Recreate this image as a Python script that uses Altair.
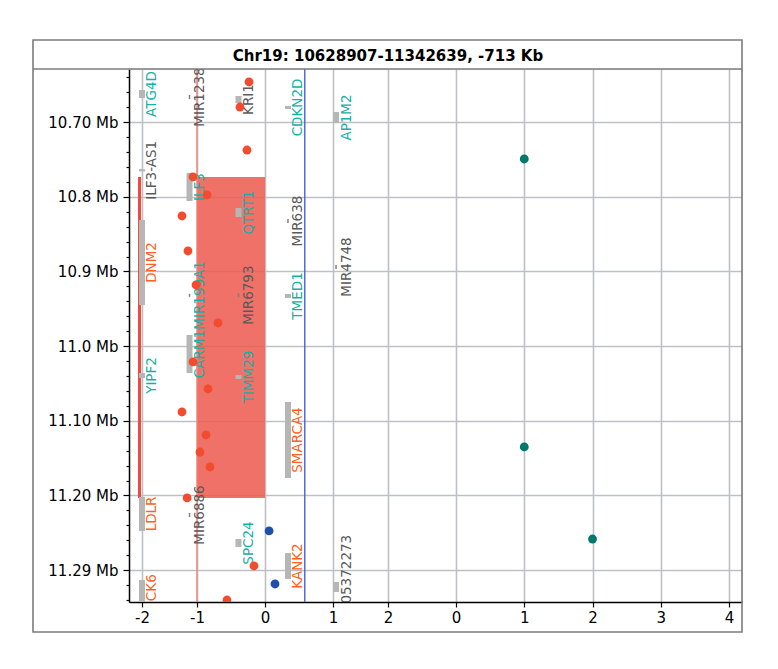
import altair as alt
import pandas as pd

TITLE = "Chr19: 10628907-11342639, -713 Kb"
Y_DOMAIN = [10.628907, 11.342639]  # Mb

# ---- x axis: left panel = log2 ratio (-2..2), right panel = count (0..4) shown to its right
RIGHT_SHIFT = 3
left_ticks = [-2, -1, 0, 1, 2]
right_ticks = [0, 1, 2, 3, 4]

# ---- y axis ticks (Mb)
y_major = [10.7, 10.8, 10.9, 11.0, 11.1, 11.2, 11.3]
y_major_labels = ["10.70 Mb", "10.8 Mb", "10.9 Mb", "11.0 Mb", "11.10 Mb", "11.20 Mb", "11.29 Mb"]
y_minor = [round(10.64 + 0.02 * i, 2) for i in range(36)]

# ---- CNV segment (loss)
cnv_start = [10.7735]
cnv_end = [11.2034]
cnv_log2 = [-1.0]
aberration_lane = -2.045

# ---- thresholds
threshold_x = [-1.0, 0.585]
threshold_kind = ["loss", "gain"]

# ---- probes (log2 ratio, position Mb)
probe_log2 = [-0.235, -0.368, -0.265, -1.073, -0.853, -1.273, -1.164, -1.018, -0.691,
              -1.073, -0.838, -1.273, -0.868, -0.956, -0.809, -1.18, -0.162, -0.559,
              0.06, 0.147]
probe_pos = [10.6463, 10.6798, 10.7374, 10.7735, 10.7976, 10.8257, 10.8726, 10.9181, 10.969,
             11.0212, 11.0574, 11.0882, 11.119, 11.1418, 11.1618, 11.2033, 11.2944, 11.34,
             11.2475, 11.3185]
probe_group = ["red"] * 18 + ["blue"] * 2

# ---- right panel counts
count_value = [1, 1, 2]
count_pos = [10.7494, 11.135, 11.2583]

# ---- genes
lane_x = [-2.0, -1.136, -0.39, 0.338, 1.055]
gene_name = ["ATG4D", "ILF3-AS1", "DNM2", "YIPF2", "LDLR", "DOCK6",
             "MIR1238", "ILF3", "MIR199A1", "CARM1", "MIR6886",
             "KRI1", "QTRT1", "MIR6793", "TIMM29", "SPC24",
             "CDKN2D", "MIR638", "TMED1", "SMARCA4", "KANK2",
             "AP1M2", "MIR4748", "LOC105372273"]
gene_lane = [0, 0, 0, 0, 0, 0,
             1, 1, 1, 1, 1,
             2, 2, 2, 2, 2,
             3, 3, 3, 3, 3,
             4, 4, 4]
gene_start = [10.6570, 10.7630, 10.8311, 11.0360, 11.2020, 11.3132,
              10.6637, 10.7682, 10.9300, 10.9851, 11.2235,
              10.6651, 10.8150, 10.9290, 11.0387, 11.2583,
              10.6784, 10.8298, 10.9302, 11.0748, 11.2770,
              10.6865, 10.8914, 11.3159]
gene_end = [10.6677, 10.7660, 10.9449, 11.0427, 11.2475, 11.3620,
            10.6691, 10.8057, 10.9340, 11.0360, 11.2288,
            10.6744, 10.8271, 10.9345, 11.0440, 11.2690,
            10.6825, 10.8351, 10.9355, 11.1766, 11.3118,
            10.7012, 10.8967, 11.3293]
gene_group = ["RefSeq", "other", "OMIM", "RefSeq", "OMIM", "OMIM",
              "other", "RefSeq", "RefSeq", "RefSeq", "other",
              "other", "RefSeq", "other", "RefSeq", "RefSeq",
              "RefSeq", "other", "RefSeq", "OMIM", "OMIM",
              "RefSeq", "other", "other"]

# ---------------------------------------------------------------- tables
genes = pd.DataFrame({
    "gene": gene_name,
    "lane": [lane_x[i] for i in gene_lane],
    "start": gene_start,
    "end": gene_end,
    "group": gene_group,
})
probes = pd.DataFrame({"x": probe_log2, "pos": probe_pos, "group": probe_group})
counts = pd.DataFrame({"count": count_value, "pos": count_pos})
cnv = pd.DataFrame({"start": cnv_start, "end": cnv_end, "log2": cnv_log2})
thr = pd.DataFrame({"x": threshold_x, "kind": threshold_kind})

# ---------------------------------------------------------------- scales / axes
FONT = "DejaVu Sans"
GRID = "#bcc1c7"

x_ticks = left_ticks + [v + RIGHT_SHIFT for v in right_ticks]
xscale = alt.Scale(domain=[-2.236, -1, 1, 2, 3, 7.19],
                   range=[0, 68, 204, 259, 327, 613], nice=False, zero=False)
xaxis = alt.Axis(values=x_ticks, title=None, grid=True, gridColor=GRID, gridWidth=1.6,
                 labelExpr=f"datum.value >= {RIGHT_SHIFT} ? '' + (datum.value - {RIGHT_SHIFT}) : '' + datum.value",
                 labelFont=FONT, labelFontSize=15, labelColor="black", labelPadding=3,
                 tickSize=5, tickColor="black", tickWidth=1.2,
                 domainColor="black", domainWidth=1.5, labelOverlap=False)

major_test = "round(datum.value*100) % 10 == 0"
label_expr = ""
for v, lab in zip(y_major, y_major_labels):
    label_expr += f"round(datum.value*100) == {int(round(v * 100))} ? '{lab}' : "
label_expr += "''"

yscale = alt.Scale(domain=Y_DOMAIN, reverse=True, nice=False, zero=False)
yaxis = alt.Axis(values=y_minor, title=None, grid=True, gridColor=GRID, gridWidth=1.6,
                 gridOpacity={"condition": {"test": major_test, "value": 1}, "value": 0},
                 tickSize={"condition": {"test": major_test, "value": 6}, "value": 3},
                 tickColor="black", tickWidth=1.2,
                 labelExpr=label_expr, labelFont=FONT, labelFontSize=15, labelColor="black",
                 labelPadding=5, labelOverlap=False, labelBound=False,
                 domainColor="black", domainWidth=1.5)


def X(field, **kw):
    return alt.X(field, type="quantitative", scale=xscale, axis=xaxis, **kw)


def Y(field, **kw):
    return alt.Y(field, type="quantitative", scale=yscale, axis=yaxis, **kw)


one = alt.Data(values=[{"a": 1}])

# decorations: outer frame and title separator
frame = alt.Chart(one).mark_rect(fillOpacity=0, stroke="#7c7c7c", strokeWidth=1.6).encode(
    x=alt.value(-96), x2=alt.value(613), y=alt.value(-29), y2=alt.value(563))
sep = alt.Chart(one).mark_rule(color="#7c7c7c", strokeWidth=1.6).encode(
    x=alt.value(-96), x2=alt.value(613), y=alt.value(0))

seg_rect = alt.Chart(cnv).mark_rect(color="#ee5a4e", opacity=0.86).encode(
    x=X("log2"), x2=alt.datum(0), y=Y("start"), y2="end")
seg_mark = alt.Chart(cnv).mark_rule(color="#ee4a3c", strokeWidth=3).encode(
    x=alt.datum(aberration_lane, scale=xscale, axis=xaxis), y=Y("start"), y2="end")

thr_rules = alt.Chart(thr).mark_rule(strokeWidth=1.4).encode(
    x=X("x"),
    color=alt.Color("kind:N", scale=alt.Scale(domain=["loss", "gain"], range=["#f2857a", "#4b5fd6"]),
                    legend=None))

is_mir = "indexof(datum.gene, 'MIR') == 0"
gene_bars = alt.Chart(genes).mark_rule(clip=True).encode(
    x=X("lane"), y=Y("start"), y2="end",
    strokeWidth=alt.condition(is_mir, alt.value(1.5), alt.value(6)),
    color=alt.condition(is_mir, alt.value("#808080"), alt.value("#b6b6b6")))

# rotated labels: dy moves them to the right of the gene bar
gene_labels = alt.Chart(genes).transform_calculate(
    mid="(datum.start + datum.end) / 2"
).mark_text(angle=270, align="center", baseline="middle", dy=10.5, font=FONT,
            fontSize=13.5, clip=True).encode(
    x=X("lane"), y=Y("mid:Q"), text="gene:N",
    color=alt.Color("group:N", scale=alt.Scale(domain=["RefSeq", "OMIM", "other"],
                                               range=["#16b0a6", "#ff5f22", "#5a5a5a"]),
                    legend=None))

probe_pts = alt.Chart(probes).mark_circle(size=78, opacity=1, clip=True).encode(
    x=X("x"), y=Y("pos"),
    fill=alt.Fill("group:N", scale=alt.Scale(domain=["red", "blue"], range=["#f24b2d", "#1f4fae"]),
                  legend=None))

count_pts = alt.Chart(counts).transform_calculate(
    xc=f"datum.count + {RIGHT_SHIFT}"
).mark_circle(size=78, opacity=1, color="#00786d", clip=True).encode(
    x=X("xc:Q"), y=Y("pos"))

chart = alt.layer(
    seg_rect, seg_mark, thr_rules, gene_bars, gene_labels, probe_pts, count_pts, frame, sep
).resolve_scale(color="independent").properties(
    width=613, height=533,
    autosize=alt.AutoSizeParams(type="none"),
    padding={"left": 121, "top": 61, "right": 20, "bottom": 50},
    title=alt.TitleParams(TITLE, font=FONT, fontSize=15, fontWeight="bold", anchor="middle",
                          frame="group", dx=-47.5, dy=34, offset=9, color="black"),
).configure_view(strokeWidth=0).configure(background="white")

chart.save("out.html", embed_options={"renderer": "svg", "actions": False})
